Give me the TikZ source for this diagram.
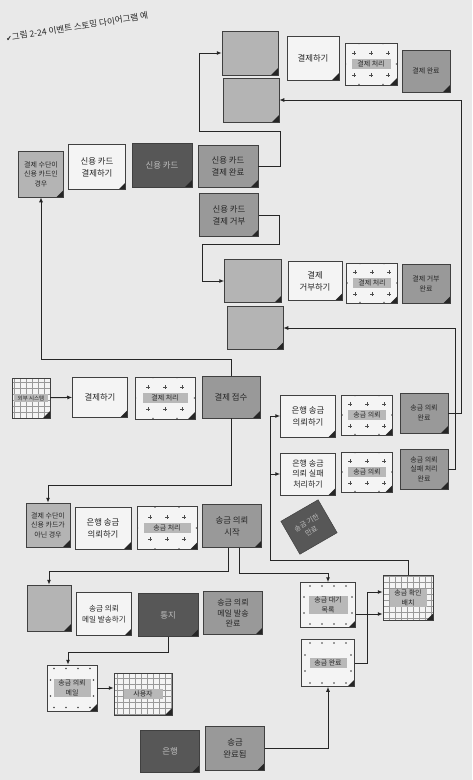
\documentclass[tikz,border=0pt]{standalone}
\usepackage{fontspec}
\setmainfont{Noto Sans CJK KR}
\newfontfamily\symfont{DejaVu Sans}
\usetikzlibrary{positioning,arrows.meta}

\definecolor{paper}{HTML}{E9E9E9}
\definecolor{cmdfill}{HTML}{F4F4F4}
\definecolor{polfill}{HTML}{B4B4B4}
\definecolor{evtfill}{HTML}{999999}
\definecolor{extfill}{HTML}{575757}
\definecolor{bandfill}{HTML}{B8B8B8}

\newcommand\notefont{\fontsize{8.4}{12}\selectfont}
\newcommand\smallnote{\fontsize{7}{9.5}\selectfont}
\setlength\fboxsep{1.5pt}
\newcommand\band[2][38pt]{\colorbox{bandfill}{\parbox{#1}{\centering\smallnote #2}}}

% folded corner and markings, used inside path picture
\newcommand\foldmark{\fill[black!85] (path picture bounding box.south east) -- ++(-7,0) -- ++(7,-7) -- cycle;}
\newcommand\plusmarks{%
  \foreach \dx in {-17,0,17}
    \foreach \dy in {-11,11}
      \draw[black!70, line width=0.4pt] ([shift={(\dx,\dy)}]path picture bounding box.center)
        +(-1.6,0) -- +(1.6,0) +(0,-1.6) -- +(0,1.6);
  \foreach \dx in {-12,12}
    \fill[black!70] ([shift={(\dx,0.6)}]path picture bounding box.north) circle (0.8)
                    ([shift={(\dx,-0.6)}]path picture bounding box.south) circle (0.8);
  \fill[black!70] ([xshift=0.6]path picture bounding box.west) circle (0.8)
                  ([xshift=-0.6]path picture bounding box.east) circle (0.8);}
\newcommand\dotmarks{%
  \foreach \dx in {-18,-6,6,18}
    \fill[black!75] ([shift={(\dx,3.5)}]path picture bounding box.north) circle (0.9)
                    ([shift={(\dx,-3.5)}]path picture bounding box.south) circle (0.9);
  \foreach \dy in {-8,8}
    \fill[black!75] ([shift={(3.5,\dy)}]path picture bounding box.west) circle (0.9)
                    ([shift={(-3.5,\dy)}]path picture bounding box.east) circle (0.9);}
\newcommand\gridmarks{\draw[black!40, line width=0.35pt, step=6pt]
  (path picture bounding box.south west) grid (path picture bounding box.north east);}

\begin{document}
\begin{tikzpicture}[x=1pt, y=-1pt,
  note/.style={draw=black!75, line width=0.5pt, minimum width=55, minimum height=43,
               inner sep=1pt, align=center, font=\notefont, text=black!85,
               path picture={\foldmark}},
  cmd/.style={note, fill=cmdfill},
  pol/.style={note, fill=polfill},
  evt/.style={note, fill=evtfill},
  ext/.style={note, fill=extfill, text=black!25},
  agg/.style={note, fill=cmdfill, path picture={\plusmarks\foldmark}},
  rdm/.style={note, fill=cmdfill, path picture={\dotmarks\foldmark}},
  sys/.style={note, fill=cmdfill, path picture={\gridmarks\foldmark}},
  arr/.style={-{Latex[length=5pt,width=4pt]}, line width=1pt, black!85}
]
\path[use as bounding box, fill=paper] (0,0) rectangle (472,780);

% caption
\node[rotate=9, anchor=west, inner sep=0, text=black!85,
      font=\fontsize{8.6}{10}\selectfont] (title) at (6,38)
  {{\symfont\fontsize{7}{8}\selectfont ✔}그림 2-24 이벤트 스토밍 다이어그램 예};

% payment done / rejected
\node[pol, minimum width=56, minimum height=44] (pA1) at (250,53) {};
\node[cmd, minimum width=52, minimum height=44] (cPay1) at (313,58) {결제하기};
\node[agg, minimum width=52, minimum height=42] (aPay1) at (371,64) {\band[36pt]{결제 처리}};
\node[evt, minimum width=48, minimum height=42, font=\smallnote] (ePayDone) at (426,71) {결제 완료};
\node[pol, minimum width=56, minimum height=44] (pA2) at (251,100) {};

\node[pol, minimum width=57, minimum height=43] (pB1) at (253,281) {};
\node[cmd, minimum width=54, minimum height=39] (cReject) at (315,281) {결제\\거부하기};
\node[agg, minimum width=51, minimum height=40] (aPay2) at (372,283) {\band[35pt]{결제 처리}};
\node[evt, minimum width=48, minimum height=39, font=\smallnote] (eRejected) at (426,284) {결제 거부\\완료};
\node[pol, minimum width=56, minimum height=43] (pB2) at (255,328) {};

% credit card
\node[pol, minimum width=45, minimum height=46, font=\smallnote] (pCard) at (41,174) {결제 수단이\\신용 카드인\\경우};
\node[cmd, minimum width=57, minimum height=45] (cCard) at (97,167) {신용 카드\\결제하기};
\node[ext, minimum width=60, minimum height=44] (xCard) at (162,165) {신용 카드};
\node[evt, minimum width=60, minimum height=42] (eCardOk) at (228,166) {신용 카드\\결제 완료};
\node[evt, minimum width=59, minimum height=43] (eCardNo) at (229,215) {신용 카드\\결제 거부};

% payment received
\node[sys, minimum width=38, minimum height=40] (xExt) at (31,398) {\band[31pt]{\fontsize{5.5}{7}\selectfont 외부 시스템}};
\node[cmd, minimum width=55, minimum height=40] (cPay0) at (100,397) {결제하기};
\node[agg, minimum width=60, minimum height=42] (aPay0) at (165,398) {\band[42pt]{결제 처리}};
\node[evt, minimum width=58, minimum height=42] (ePayRecv) at (231,397) {결제 접수};

% bank transfer request
\node[cmd, minimum width=55, minimum height=42] (cBank) at (308,416) {은행 송금\\의뢰하기};
\node[agg, minimum width=51, minimum height=40] (aTr1) at (367,415) {\band[35pt]{송금 의뢰}};
\node[evt, minimum width=48, minimum height=40, font=\smallnote] (eTrDone) at (424,413) {송금 의뢰\\완료};
\node[cmd, minimum width=55, minimum height=42, font=\fontsize{8}{10.5}\selectfont] (cBankFail) at (308,474) {은행 송금\\의뢰 실패\\처리하기};
\node[agg, minimum width=51, minimum height=40] (aTr2) at (367,472) {\band[35pt]{송금 의뢰}};
\node[evt, minimum width=48, minimum height=40, font=\smallnote] (eTrFail) at (424,469) {송금 의뢰\\실패 처리\\완료};

% not a credit card
\node[pol, minimum width=44, minimum height=44, font=\smallnote] (pNotCard) at (48,525) {결제 수단이\\신용 카드가\\아닌 경우};
\node[cmd, minimum width=56, minimum height=42] (cTrReq) at (103,528) {은행 송금\\의뢰하기};
\node[agg, minimum width=60, minimum height=43] (aTr0) at (167,528) {\band[44pt]{송금 처리}};
\node[evt, minimum width=59, minimum height=43] (eTrStart) at (232,526) {송금 의뢰\\시작};
\node[ext, minimum width=43, minimum height=38, rotate=30, font=\smallnote] (xExpire) at (309,527) {송금 기한\\만료};

% mail
\node[pol, minimum width=44, minimum height=46] (pC1) at (49,608) {};
\node[cmd, minimum width=55, minimum height=43, font=\fontsize{7.6}{11}\selectfont] (cMail) at (104,614) {송금 의뢰\\메일 발송하기};
\node[ext, minimum width=60, minimum height=43] (xNotify) at (168,615) {통지};
\node[evt, minimum width=59, minimum height=43, font=\fontsize{8}{10.5}\selectfont] (eMailDone) at (233,613) {송금 의뢰\\메일 발송\\완료};
\node[rdm, minimum width=50, minimum height=46] (rMail) at (72,688) {\band[34pt]{송금 의뢰\\메일}};
\node[sys, minimum width=58, minimum height=42] (xUser) at (143,694) {\band[36pt]{사용자}};

% batch
\node[rdm, minimum width=55, minimum height=45] (rWait) at (328,605) {\band[36pt]{송금 대기\\목록}};
\node[rdm, minimum width=53, minimum height=47] (rDone) at (328,663) {\band[34pt]{송금 완료}};
\node[sys, minimum width=50, minimum height=45] (xBatch) at (408,598) {\band[34pt]{송금 확인\\배치}};
\node[ext, minimum width=59, minimum height=42] (xBankB) at (170,751) {은행};
\node[evt, minimum width=59, minimum height=44] (eTrComplete) at (235,748) {송금\\완료됨};

% connectors
\draw[arr] (xExt) -- (cPay0);
\draw[arr] (ePayRecv.north) -- ++(0,-16) -| (pCard.south);
\draw[arr] (ePayRecv.south) -- ++(0,67) -| (pNotCard.north);
\draw[arr] (eCardOk.east) -| ++(22,-35) -| ([xshift=-22]pA1.west) -- (pA1.west);
\draw[arr] (eCardNo.east) -| ++(21,29) -| ([xshift=-22]pB1.west) -- (pB1.west);
\draw[arr] (eTrDone.east) -- ++(13,0) |- (pA2.east);
\draw[arr] (eTrFail.east) -- ++(7,0) |- (pB2.east);
\coordinate (bus) at ([xshift=-10]cBank.west);
\draw[arr] (xBatch.north) -- ++(0,-15) -| (bus) -- (cBank.west);
\draw[arr] (bus |- cBankFail.west) -- (cBankFail.west);
\draw[arr] ([xshift=-4]eTrStart.south) -- ++(0,24) -| (pC1.north);
\draw[arr] ([xshift=7]eTrStart.south) -- ++(0,26) -| (rWait.north);
\draw[arr] (xNotify.south) -- ++(0,16) -| ([xshift=-4]rMail.north);
\draw[arr] (rMail.east) -- (rMail.east -| xUser.west);
\coordinate (wq) at ([yshift=-9]rWait.east);
\draw[arr] (wq) -- (wq -| xBatch.west);
\draw[arr] (rDone.east) -- ++(13,0) |- ([yshift=6]xBatch.west);
\draw[arr] (eTrComplete.east) -| (rDone.south);
\end{tikzpicture}
\end{document}
